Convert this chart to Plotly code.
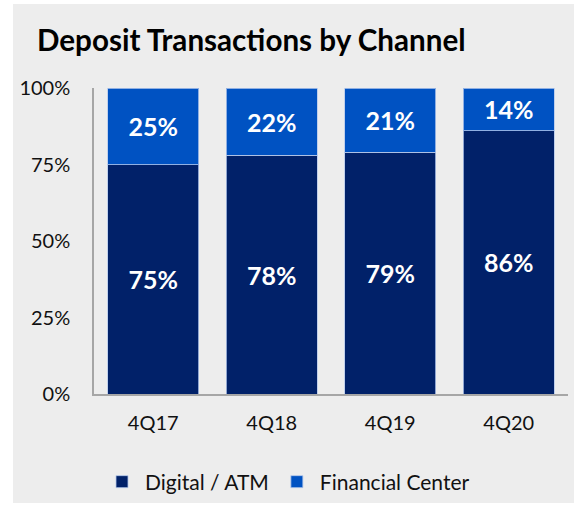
import plotly.graph_objects as go

categories = ["4Q17", "4Q18", "4Q19", "4Q20"]
digital_atm = [75, 78, 79, 86]
financial_center = [25, 22, 21, 14]
y_ticks = [0, 25, 50, 75, 100]
y_tick_labels = ["0%", "25%", "50%", "75%", "100%"]

NAVY = "#012169"
BLUE = "#0052C2"
BG = "#EDEDED"
FONT = "Lato"

W, H = 574, 505
L, R, T, B = 94, 6, 88, 111
pw, ph = W - L - R, H - T - B

def px_x(p):
    return (p - L) / pw

def px_y(p):
    return (H - B - p) / ph

def bar(vals, name, color):
    return go.Bar(
        x=categories, y=vals, name=name,
        text=[f"{v}%" for v in vals], texttemplate="%{text}",
        marker=dict(color=color, line=dict(color="rgba(180,200,235,0.8)", width=1)),
        textposition="inside", insidetextanchor="middle", textangle=0,
        textfont=dict(family=FONT, size=25, color="white", weight="bold"),
        hoverinfo="skip",
    )

fig = go.Figure()
fig.add_trace(bar(digital_atm, "Digital / ATM", NAVY))
fig.add_trace(bar(financial_center, "Financial Center", BLUE))

fig.add_shape(type="rect", xref="paper", yref="paper", layer="below",
              x0=px_x(13), x1=px_x(W + 2), y0=px_y(503), y1=px_y(4),
              fillcolor=BG, line=dict(width=0))

fig.update_layout(
    width=W, height=H,
    margin=dict(l=L, r=R, t=T, b=B, autoexpand=False),
    paper_bgcolor="white", plot_bgcolor=BG,
    barmode="stack", bargap=0.232,
    font=dict(family=FONT, size=20, color="#111111"),
    title=dict(text="<b>Deposit Transactions by Channel</b>",
               xref="container", yref="container", x=37 / W, xanchor="left",
               y=1 - 41 / H, yanchor="middle",
               font=dict(family=FONT, size=29.6, color="black")),
    xaxis=dict(showgrid=False, showline=True, linecolor="#A6A6A6", linewidth=1.5,
               ticks="", tickfont=dict(size=20), ticklabelstandoff=10),
    yaxis=dict(range=[0, 100], tickvals=y_ticks, ticktext=y_tick_labels,
               showgrid=False, zeroline=False, showline=True,
               linecolor="#A6A6A6", linewidth=1.5, ticks="",
               tickfont=dict(size=20), ticklabelstandoff=18),
    legend=dict(orientation="h", xref="container", yref="container",
                x=99 / W, xanchor="left", y=1 - 482 / H, yanchor="middle",
                bgcolor="rgba(0,0,0,0)", font=dict(size=21),
                traceorder="normal", itemwidth=36),
    showlegend=True,
)

fig.write_html("out.html", post_script="document.body.style.margin='0';",
               config={"displayModeBar": False})
